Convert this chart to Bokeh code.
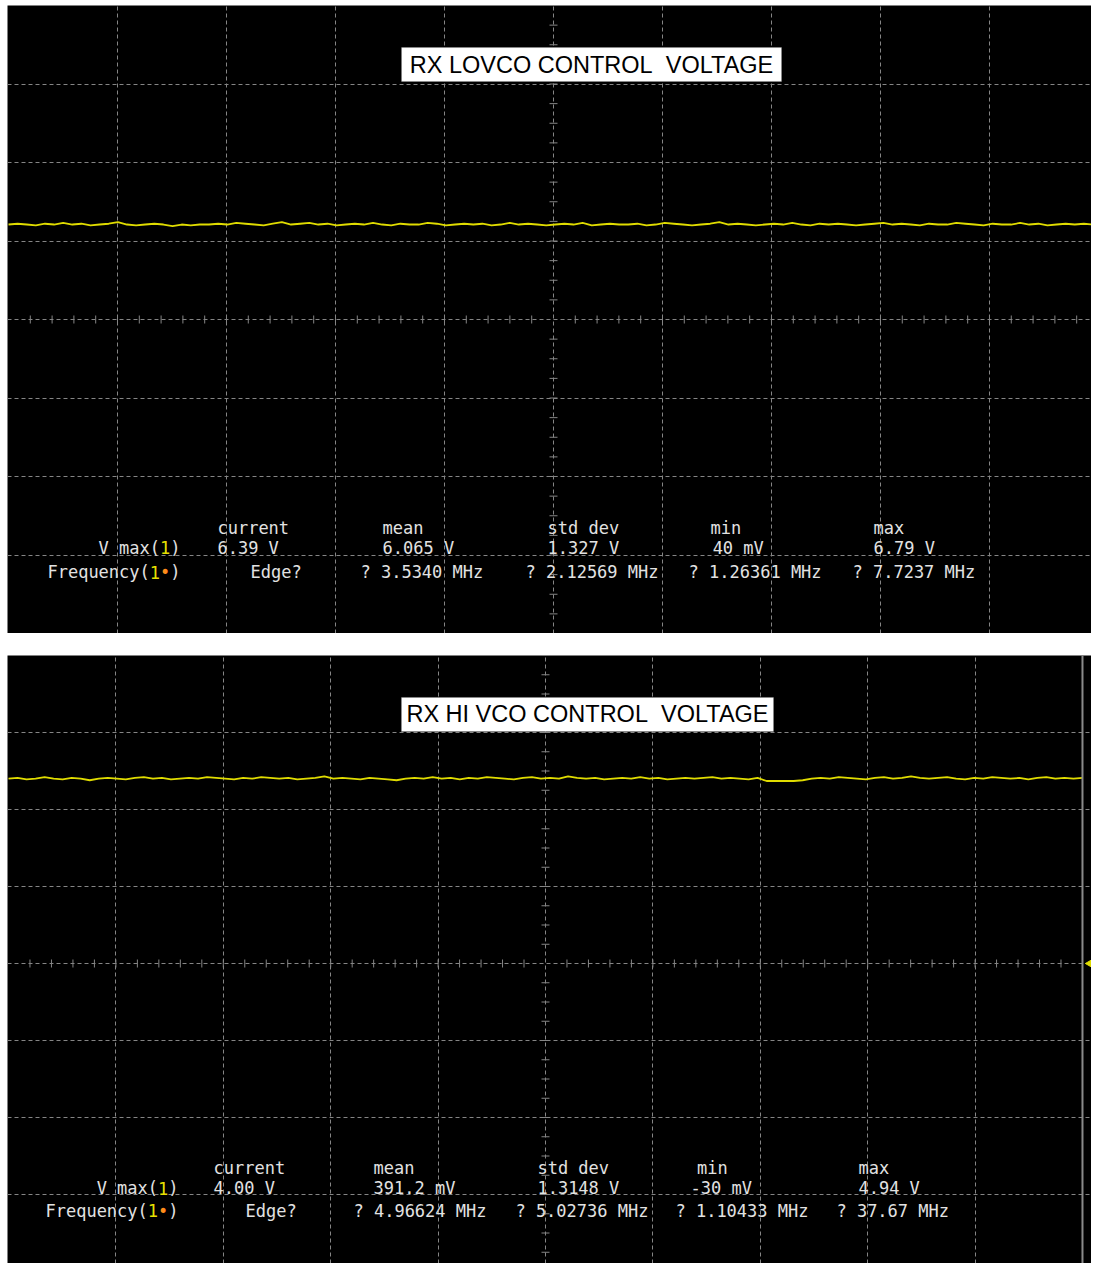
import numpy as np
from bokeh.plotting import figure
from bokeh.models import Label, BoxAnnotation, Span, Spacer
from bokeh.layouts import column, row
from bokeh.core.properties import value
from bokeh.embed import file_html
from bokeh.resources import INLINE

# ---------------- data ----------------
top_title = "RX LOVCO CONTROL\u00a0 VOLTAGE"
bottom_title = "RX HI VCO CONTROL\u00a0 VOLTAGE"

# trace level in screen divisions (0 = centre line), left to right
top_trace = [
    1.21, 1.22, 1.21, 1.20, 1.22, 1.21, 1.23, 1.21, 1.22, 1.20,
    1.21, 1.22, 1.24, 1.21, 1.20, 1.21, 1.22, 1.21, 1.19, 1.21,
    1.20, 1.21, 1.21, 1.22, 1.21, 1.23, 1.22, 1.21, 1.20, 1.22,
    1.24, 1.21, 1.22, 1.23, 1.21, 1.22, 1.20, 1.21, 1.22, 1.21,
    1.23, 1.21, 1.20, 1.22, 1.21, 1.21, 1.23, 1.22, 1.20, 1.21,
    1.22, 1.21, 1.22, 1.20, 1.21, 1.23, 1.21, 1.22, 1.21, 1.20,
    1.21, 1.22, 1.21, 1.23, 1.20, 1.21, 1.22, 1.21, 1.21, 1.22,
    1.20, 1.21, 1.23, 1.22, 1.21, 1.20, 1.21, 1.22, 1.24, 1.21,
    1.22, 1.21, 1.20, 1.21, 1.22, 1.21, 1.23, 1.21, 1.20, 1.22,
    1.21, 1.22, 1.21, 1.20, 1.21, 1.22, 1.23, 1.21, 1.22, 1.21,
    1.20, 1.22, 1.21, 1.21, 1.23, 1.22, 1.21, 1.20, 1.22, 1.21,
    1.21, 1.23, 1.21, 1.22, 1.20, 1.21, 1.22, 1.21, 1.22, 1.21,
]
bottom_trace = [
    2.40, 2.41, 2.39, 2.40, 2.42, 2.40, 2.39, 2.41, 2.40, 2.38,
    2.40, 2.41, 2.40, 2.39, 2.41, 2.42, 2.40, 2.41, 2.39, 2.40,
    2.41, 2.40, 2.42, 2.41, 2.40, 2.39, 2.41, 2.40, 2.42, 2.41,
    2.40, 2.41, 2.39, 2.40, 2.41, 2.43, 2.40, 2.41, 2.40, 2.39,
    2.41, 2.40, 2.39, 2.38, 2.40, 2.41, 2.40, 2.42, 2.40, 2.41,
    2.39, 2.41, 2.40, 2.42, 2.41, 2.40, 2.39, 2.41, 2.42, 2.40,
    2.41, 2.40, 2.43, 2.41, 2.40, 2.41, 2.39, 2.40, 2.41, 2.40,
    2.42, 2.40, 2.41, 2.39, 2.40, 2.41, 2.40, 2.41, 2.42, 2.40,
    2.41, 2.40, 2.39, 2.41, 2.37, 2.37, 2.37, 2.37, 2.38, 2.40,
    2.41, 2.40, 2.42, 2.41, 2.40, 2.39, 2.41, 2.42, 2.40, 2.41,
    2.43, 2.41, 2.40, 2.41, 2.42, 2.40, 2.39, 2.41, 2.40, 2.42,
    2.41, 2.40, 2.41, 2.39, 2.41, 2.42, 2.40, 2.41, 2.40, 2.41,
]

stat_headers = ["current", "mean", "std dev", "min", "max"]
top_vmax = ["6.39 V", "6.065 V", "1.327 V", "40 mV", "6.79 V"]
top_freq = ["Edge?", "? 3.5340 MHz", "? 2.12569 MHz", "? 1.26361 MHz", "? 7.7237 MHz"]
bottom_vmax = ["4.00 V", "391.2 mV", "1.3148 V", "-30 mV", "4.94 V"]
bottom_freq = ["Edge?", "? 4.96624 MHz", "? 5.02736 MHz", "? 1.10433 MHz", "? 37.67 MHz"]

# ---------------- styling / layout ----------------
W = 1084
LEFT_PAD = 7
TOP_PAD = 5
GAP = 22
GRID = "#858585"
TXT = "#e2e2e2"
YEL = "#e8e000"
ORG = "#ff8c1a"
TRACE = "#e0dc00"
MONO = "DejaVu Sans Mono"
FS = 17
CW = 0.602 * FS  # monospace char advance

top_layout = dict(
    height=628, x_range=(-0.0092, 9.936), y_range=(-4.0, 4.0), trace_end=9.95, border=False,
    box=(3.606, 7.092, 3.464, 3.032), title_xy=(5.349, 3.248),
    rows=(-2.66, -2.91, -3.22), label_end=1.578,
    head_x=[1.917, 3.431, 4.945, 6.44, 7.936],
    val_x=[1.917, 3.431, 4.945, 6.46, 7.936],
    freq_x=[2.22, 3.229, 4.743, 6.239, 7.743],
)
bottom_layout = dict(
    height=608, x_range=(-0.0093, 10.084), y_range=(-3.896, 4.0), trace_end=10.0, border=True,
    box=(3.659, 7.123, 3.455, 3.013), title_xy=(5.391, 3.234),
    rows=(-2.66, -2.92, -3.21), label_end=1.583,
    head_x=[1.909, 3.399, 4.925, 6.41, 7.914],
    val_x=[1.909, 3.399, 4.925, 6.35, 7.914],
    freq_x=[2.207, 3.212, 4.72, 6.21, 7.709],
)


def panel(trace, title, vmax_vals, freq_vals, L):
    p = figure(width=W, height=L["height"], x_range=L["x_range"], y_range=L["y_range"],
               x_axis_location=None, y_axis_location=None, toolbar_location=None,
               output_backend="svg", min_border=0, outline_line_color=None,
               background_fill_color="black", border_fill_color="black")
    x0, x1 = L["x_range"]
    p.xgrid.ticker = [v for v in range(1, 10)]
    p.ygrid.ticker = [v for v in range(-3, 4)]
    for g in (p.xgrid, p.ygrid):
        g.grid_line_color = GRID
        g.grid_line_dash = "4 3"
        g.grid_line_width = 1

    # minor ticks on centre cross
    hx = [v for v in np.arange(0.2, min(x1, 10), 0.2) if abs(v - 5) > 1e-6]
    p.scatter(hx, [0] * len(hx), marker="dash", angle=np.pi / 2, size=8,
              line_color=GRID, line_width=1)
    vy = [v for v in np.arange(-4, 4.01, 0.25) if abs(v) > 1e-6]
    p.scatter([5] * len(vy), vy, marker="dash", size=8, line_color=GRID, line_width=1)

    if L["border"]:
        p.add_layout(Span(location=10, dimension="height", line_color="#8a8a8a", line_width=2))
        # channel ground marker at right edge
        p.scatter([10.07], [0], marker="triangle", angle=np.pi / 2, size=8,
                  fill_color=TRACE, line_color=TRACE)

    xs = np.linspace(0, L["trace_end"], len(trace))
    p.line(xs, trace, line_color=TRACE, line_width=1.8)

    # title box
    bl, br, bt, bb = L["box"]
    p.add_layout(BoxAnnotation(left=bl, right=br, top=bt, bottom=bb, fill_color="white",
                               fill_alpha=1, line_color="#999999", line_width=1))
    tx, ty = L["title_xy"]
    p.add_layout(Label(x=tx, y=ty, text=title, text_align="center", text_baseline="middle",
                       text_font="Liberation Sans", text_font_size="23.5px", text_color="black"))

    r_head, r_val, r_freq = L["rows"]
    common = dict(text_font=value(MONO), text_font_size=f"{FS}px", text_baseline="middle")
    p.text(x=L["head_x"], y=[r_head] * 5, text=stat_headers, text_color=TXT, **common)
    p.text(x=L["val_x"], y=[r_val] * 5, text=vmax_vals, text_color=TXT, **common)
    p.text(x=L["freq_x"], y=[r_freq] * 5, text=freq_vals, text_color=TXT, **common)

    e = L["label_end"]
    p.text(x=[e], y=[r_val], text=["V max("], text_align="right", x_offset=-2 * CW, text_color=TXT, **common)
    p.text(x=[e], y=[r_val], text=["1"], text_align="right", x_offset=-CW, text_color=YEL, **common)
    p.text(x=[e], y=[r_val], text=[")"], text_align="right", text_color=TXT, **common)
    p.text(x=[e], y=[r_freq], text=["Frequency("], text_align="right", x_offset=-3 * CW, text_color=TXT, **common)
    p.text(x=[e], y=[r_freq], text=["1"], text_align="right", x_offset=-2 * CW, text_color=YEL, **common)
    p.text(x=[e], y=[r_freq], text=["\u2022"], text_align="right", x_offset=-CW, text_color=ORG, **common)
    p.text(x=[e], y=[r_freq], text=[")"], text_align="right", text_color=TXT, **common)
    return p


p1 = panel(top_trace, top_title, top_vmax, top_freq, top_layout)
p2 = panel(bottom_trace, bottom_title, bottom_vmax, bottom_freq, bottom_layout)
layout = column(
    Spacer(width=W, height=TOP_PAD),
    row(Spacer(width=LEFT_PAD, height=10), p1),
    Spacer(width=W, height=GAP),
    row(Spacer(width=LEFT_PAD, height=10), p2),
)

open("out.html", "w").write(file_html(layout, INLINE))
